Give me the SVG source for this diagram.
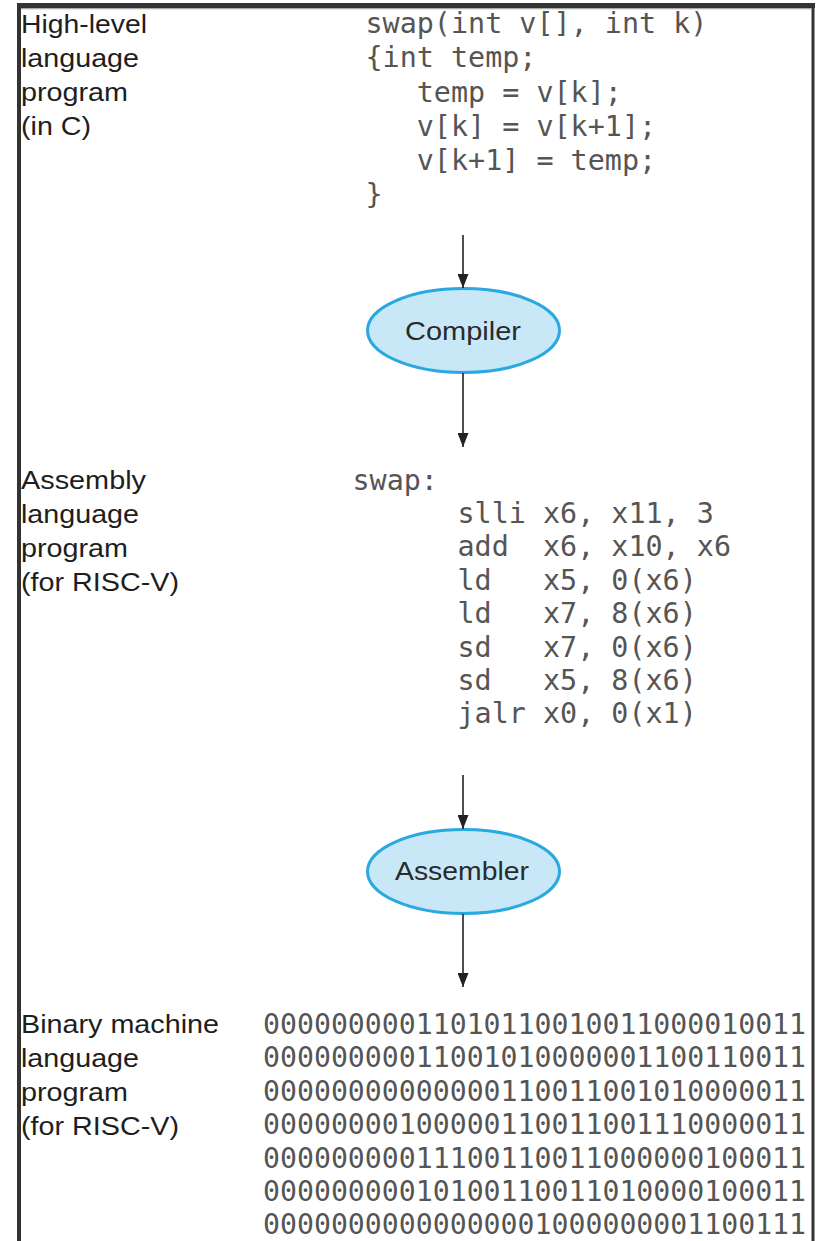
<svg xmlns="http://www.w3.org/2000/svg" width="822" height="1241" viewBox="0 0 822 1241">
<style>
.lbl{font-family:"Liberation Sans",Arial,sans-serif;font-size:25.5px;fill:#1e1e1e}
.code{font-family:"DejaVu Sans Mono","Liberation Mono",monospace;font-size:28.4px;fill:#555;white-space:pre}
.bin{font-family:"DejaVu Sans Mono","Liberation Mono",monospace;font-size:28.2px;fill:#555}
.node ellipse{fill:#c8e8f8;stroke:#2aa8e2;stroke-width:3}
.node text{font-family:"Liberation Sans",Arial,sans-serif;font-size:25.5px;fill:#2a2a2a;text-anchor:middle}
.conn line{stroke:#222;stroke-width:1.6}
</style>
<defs>
<marker id="arr" markerUnits="userSpaceOnUse" markerWidth="14" markerHeight="11" refX="14" refY="5.5" orient="auto">
<path d="M0,0 L14,5.5 L0,11 z" fill="#222"/>
</marker>
</defs>
<rect width="822" height="1241" fill="#fff"/>
<g id="frame">
<rect x="17" y="3" width="798" height="5" fill="#333"/>
<rect x="21" y="8" width="790" height="1.3" fill="#aaa"/>
<rect x="17" y="3" width="4" height="1238" fill="#333"/>
<rect x="811.5" y="3" width="3" height="1238" fill="#333"/>
</g>
<g id="hll-label">
<text class="lbl" x="21" y="33" textLength="126" lengthAdjust="spacingAndGlyphs">High-level</text>
<text class="lbl" x="21" y="67" textLength="118" lengthAdjust="spacingAndGlyphs">language</text>
<text class="lbl" x="21" y="101" textLength="107" lengthAdjust="spacingAndGlyphs">program</text>
<text class="lbl" x="21" y="135" textLength="70" lengthAdjust="spacingAndGlyphs">(in C)</text>
</g>
<g id="c-code">
<text class="code" x="365.5" y="33">swap(int v[], int k)</text>
<text class="code" x="365.5" y="67.3">{int temp;</text>
<text class="code" x="365.5" y="101.6">   temp = v[k];</text>
<text class="code" x="365.5" y="135.9">   v[k] = v[k+1];</text>
<text class="code" x="365.5" y="170.2">   v[k+1] = temp;</text>
<text class="code" x="365.5" y="203.5">}</text>
</g>
<g id="compiler" class="node">
<ellipse cx="463.5" cy="330.5" rx="96" ry="42"/>
<text x="463" y="340" textLength="116" lengthAdjust="spacingAndGlyphs">Compiler</text>
</g>
<g id="asm-label">
<text class="lbl" x="21" y="489" textLength="125" lengthAdjust="spacingAndGlyphs">Assembly</text>
<text class="lbl" x="21" y="523" textLength="118" lengthAdjust="spacingAndGlyphs">language</text>
<text class="lbl" x="21" y="557" textLength="107" lengthAdjust="spacingAndGlyphs">program</text>
<text class="lbl" x="21" y="591" textLength="158" lengthAdjust="spacingAndGlyphs">(for RISC-V)</text>
</g>
<g id="asm-code">
<text class="code" x="352.5" y="489.5">swap:</text>
<text class="code" x="457.5" y="522.9">slli x6, x11, 3</text>
<text class="code" x="457.5" y="556.3">add  x6, x10, x6</text>
<text class="code" x="457.5" y="589.7">ld   x5, 0(x6)</text>
<text class="code" x="457.5" y="623.1">ld   x7, 8(x6)</text>
<text class="code" x="457.5" y="656.5">sd   x7, 0(x6)</text>
<text class="code" x="457.5" y="689.9">sd   x5, 8(x6)</text>
<text class="code" x="457.5" y="723.3">jalr x0, 0(x1)</text>
</g>
<g id="assembler" class="node">
<ellipse cx="463.5" cy="871.5" rx="96" ry="42"/>
<text x="462" y="880" textLength="134" lengthAdjust="spacingAndGlyphs">Assembler</text>
</g>
<g id="bin-label">
<text class="lbl" x="21" y="1033" textLength="198" lengthAdjust="spacingAndGlyphs">Binary machine</text>
<text class="lbl" x="21" y="1067" textLength="118" lengthAdjust="spacingAndGlyphs">language</text>
<text class="lbl" x="21" y="1101" textLength="107" lengthAdjust="spacingAndGlyphs">program</text>
<text class="lbl" x="21" y="1135" textLength="158" lengthAdjust="spacingAndGlyphs">(for RISC-V)</text>
</g>
<g id="bin-code">
<text class="bin" x="263" y="1034">00000000011010110010011000010011</text>
<text class="bin" x="263" y="1067.4">00000000011001010000001100110011</text>
<text class="bin" x="263" y="1100.8">00000000000000110011001010000011</text>
<text class="bin" x="263" y="1134.2">00000000100000110011001110000011</text>
<text class="bin" x="263" y="1167.6">00000000011100110011000000100011</text>
<text class="bin" x="263" y="1201">00000000010100110011010000100011</text>
<text class="bin" x="263" y="1234.4">00000000000000001000000001100111</text>
</g>
<g id="connectors" class="conn">
<line x1="463" y1="235" x2="463" y2="288" marker-end="url(#arr)"/>
<line x1="463" y1="373" x2="463" y2="447" marker-end="url(#arr)"/>
<line x1="463" y1="775" x2="463" y2="829" marker-end="url(#arr)"/>
<line x1="463" y1="914" x2="463" y2="987" marker-end="url(#arr)"/>
</g>
</svg>
